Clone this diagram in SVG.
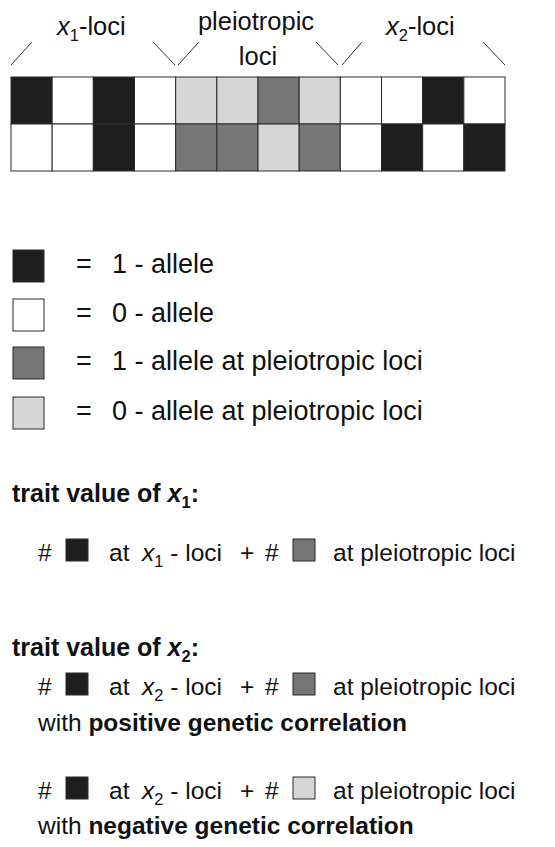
<svg xmlns="http://www.w3.org/2000/svg" width="555" height="847" viewBox="0 0 555 847">
  <style>
    text { font-family: "Liberation Sans", Arial, sans-serif; fill: #111; }
    .hdr { font-size: 25.5px; }
    .leg { font-size: 27px; }
    .frm { font-size: 24.5px; }
    .bold { font-size: 25px; font-weight: bold; }
    .it { font-style: italic; }
    .sub { font-size: 16.5px; }
    .cell { stroke: #2a2a2a; stroke-width: 1; }
    .one { fill: #1e1e1e; }
    .zero { fill: #ffffff; }
    .p1 { fill: #767676; }
    .p0 { fill: #d6d6d6; }
    .tick { stroke: #333; stroke-width: 1; fill: none; }
  </style>

  <!-- locus group labels -->
  <g id="labels">
    <text class="hdr" x="57" y="35"><tspan class="it">x</tspan><tspan class="sub" dy="6">1</tspan><tspan dy="-6">-loci</tspan></text>
    <text class="hdr" x="256" y="30" text-anchor="middle">pleiotropic</text>
    <text class="hdr" x="258" y="65" text-anchor="middle">loci</text>
    <text class="hdr" x="386" y="35"><tspan class="it">x</tspan><tspan class="sub" dy="6">2</tspan><tspan dy="-6">-loci</tspan></text>
  </g>

  <!-- bracket ticks above each block -->
  <g id="connectors">
    <line class="tick" x1="11" y1="65" x2="32" y2="42"/>
    <line class="tick" x1="153" y1="42" x2="175" y2="65"/>
    <line class="tick" x1="178" y1="65" x2="199" y2="42"/>
    <line class="tick" x1="316" y1="42" x2="338" y2="65"/>
    <line class="tick" x1="342" y1="65" x2="362" y2="42"/>
    <line class="tick" x1="483" y1="42" x2="505" y2="65"/>
  </g>

  <!-- chromosome pair: 12 loci x 2 rows -->
  <g id="genome">
    <g id="row1">
      <rect class="cell one"  x="11"     y="77" width="41.17" height="47"/>
      <rect class="cell zero" x="52.17"  y="77" width="41.17" height="47"/>
      <rect class="cell one"  x="93.33"  y="77" width="41.17" height="47"/>
      <rect class="cell zero" x="134.5"  y="77" width="41.17" height="47"/>
      <rect class="cell p0"   x="175.67" y="77" width="41.17" height="47"/>
      <rect class="cell p0"   x="216.83" y="77" width="41.17" height="47"/>
      <rect class="cell p1"   x="258"    y="77" width="41.17" height="47"/>
      <rect class="cell p0"   x="299.17" y="77" width="41.17" height="47"/>
      <rect class="cell zero" x="340.33" y="77" width="41.17" height="47"/>
      <rect class="cell zero" x="381.5"  y="77" width="41.17" height="47"/>
      <rect class="cell one"  x="422.67" y="77" width="41.17" height="47"/>
      <rect class="cell zero" x="463.83" y="77" width="41.17" height="47"/>
    </g>
    <g id="row2">
      <rect class="cell zero" x="11"     y="124" width="41.17" height="47"/>
      <rect class="cell zero" x="52.17"  y="124" width="41.17" height="47"/>
      <rect class="cell one"  x="93.33"  y="124" width="41.17" height="47"/>
      <rect class="cell zero" x="134.5"  y="124" width="41.17" height="47"/>
      <rect class="cell p1"   x="175.67" y="124" width="41.17" height="47"/>
      <rect class="cell p1"   x="216.83" y="124" width="41.17" height="47"/>
      <rect class="cell p0"   x="258"    y="124" width="41.17" height="47"/>
      <rect class="cell p1"   x="299.17" y="124" width="41.17" height="47"/>
      <rect class="cell zero" x="340.33" y="124" width="41.17" height="47"/>
      <rect class="cell one"  x="381.5"  y="124" width="41.17" height="47"/>
      <rect class="cell zero" x="422.67" y="124" width="41.17" height="47"/>
      <rect class="cell one"  x="463.83" y="124" width="41.17" height="47"/>
    </g>
  </g>

  <!-- key -->
  <g id="legend">
    <g id="key-one">
      <rect class="cell one" x="13" y="250" width="31" height="32"/>
      <text class="leg" x="76" y="273">=</text>
      <text class="leg" x="112" y="273">1 - allele</text>
    </g>
    <g id="key-zero">
      <rect class="cell zero" x="13" y="299" width="31" height="32"/>
      <text class="leg" x="76" y="322">=</text>
      <text class="leg" x="112" y="322">0 - allele</text>
    </g>
    <g id="key-p1">
      <rect class="cell p1" x="13" y="347" width="31" height="32"/>
      <text class="leg" x="76" y="370">=</text>
      <text class="leg" x="112" y="370">1 - allele at pleiotropic loci</text>
    </g>
    <g id="key-p0">
      <rect class="cell p0" x="13" y="397" width="31" height="32"/>
      <text class="leg" x="76" y="420">=</text>
      <text class="leg" x="112" y="420">0 - allele at pleiotropic loci</text>
    </g>
  </g>

  <!-- trait x1 -->
  <g id="trait-x1">
    <text class="bold" x="12" y="502">trait value of <tspan class="it">x</tspan><tspan class="sub" dy="6">1</tspan><tspan dy="-6">:</tspan></text>
    <text class="frm" x="38" y="561">#</text>
    <rect class="cell one" x="66" y="539" width="22" height="22"/>
    <text class="frm" x="109" y="561">at</text>
    <text class="frm" x="142" y="561"><tspan class="it">x</tspan><tspan class="sub" dy="6">1</tspan><tspan dy="-6"> - loci</tspan></text>
    <text class="frm" x="240" y="561">+</text>
    <text class="frm" x="265" y="561">#</text>
    <rect class="cell p1" x="293" y="539" width="22" height="22"/>
    <text class="frm" x="333" y="561">at pleiotropic loci</text>
  </g>

  <!-- trait x2 -->
  <g id="trait-x2">
    <text class="bold" x="12" y="656">trait value of <tspan class="it">x</tspan><tspan class="sub" dy="6">2</tspan><tspan dy="-6">:</tspan></text>
  </g>

  <g id="positive">
    <text class="frm" x="38" y="695">#</text>
    <rect class="cell one" x="66" y="673" width="22" height="22"/>
    <text class="frm" x="109" y="695">at</text>
    <text class="frm" x="142" y="695"><tspan class="it">x</tspan><tspan class="sub" dy="6">2</tspan><tspan dy="-6"> - loci</tspan></text>
    <text class="frm" x="240" y="695">+</text>
    <text class="frm" x="265" y="695">#</text>
    <rect class="cell p1" x="293" y="673" width="22" height="22"/>
    <text class="frm" x="333" y="695">at pleiotropic loci</text>
    <text class="frm" x="38" y="731">with <tspan font-weight="bold">positive genetic correlation</tspan></text>
  </g>

  <g id="negative">
    <text class="frm" x="38" y="799">#</text>
    <rect class="cell one" x="66" y="777" width="22" height="22"/>
    <text class="frm" x="109" y="799">at</text>
    <text class="frm" x="142" y="799"><tspan class="it">x</tspan><tspan class="sub" dy="6">2</tspan><tspan dy="-6"> - loci</tspan></text>
    <text class="frm" x="240" y="799">+</text>
    <text class="frm" x="265" y="799">#</text>
    <rect class="cell p0" x="293" y="777" width="22" height="22"/>
    <text class="frm" x="333" y="799">at pleiotropic loci</text>
    <text class="frm" x="38" y="834">with <tspan font-weight="bold">negative genetic correlation</tspan></text>
  </g>
</svg>
